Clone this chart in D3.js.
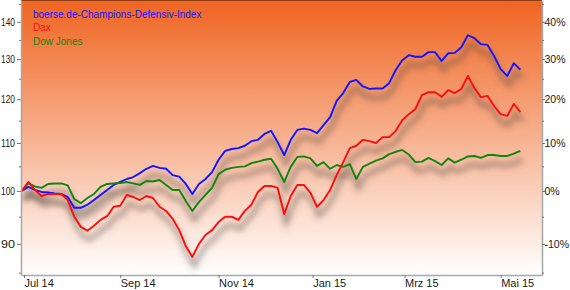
<!DOCTYPE html>
<html><head><meta charset="utf-8">
<script src="https://cdn.jsdelivr.net/npm/d3@7/dist/d3.min.js"></script>
<style>
body{margin:0;background:#fff}
svg{display:block}
text{font-family:"Liberation Sans",Arial,sans-serif}
</style>
</head><body>
<svg id="chart" width="570" height="290"></svg>
<script>
// ---------- data ----------
const seriesNames = ["boerse.de-Champions-Defensiv-Index", "Dax", "Dow Jones"];
const seriesColors = ["#1414ff", "#ff0d0d", "#118511"];
const dayStep = 3; // sample every 3 trading days, starting 30 Jun 2014
const champions = [100.0,100.8,100.2,99.8,99.7,99.5,99.4,98.8,96.7,96.7,
  97.3,98.2,99.2,100.2,101.2,101.8,102.4,102.8,103.6,104.5,
  105.1,104.7,104.5,103.2,102.9,101.4,99.4,101.4,102.4,103.8,
  106.4,108.3,108.7,108.9,109.4,110.4,110.7,112.0,112.7,110.2,
  107.4,110.7,112.9,113.2,112.9,112.2,114.0,115.8,119.6,121.5,
  124.2,124.7,123.1,122.5,122.6,122.6,123.9,127.2,129.7,131.0,
  130.6,130.6,131.8,131.8,129.5,131.5,131.6,133.1,136.3,135.5,
  133.9,133.7,130.8,127.4,125.7,128.9,127.3];
const dax = [100.0,101.8,100.2,99.0,99.4,99.4,99.4,98.2,95.0,93.1,
  92.4,93.3,94.4,95.1,96.9,97.1,99.2,98.8,98.2,99.0,
  98.6,96.9,96.1,94.6,92.5,89.6,87.7,90.0,91.6,92.5,
  94.0,95.0,95.0,94.4,96.1,97.3,99.8,101.0,101.0,100.6,
  95.5,99.0,101.2,101.2,99.6,96.9,98.2,100.2,103.2,105.9,
  108.9,109.4,110.7,110.4,110.0,111.3,111.3,112.7,115.1,116.5,
  117.7,121.0,121.7,121.7,120.6,122.2,121.5,122.5,125.7,122.7,
  120.5,120.8,118.4,116.5,116.1,118.9,117.0];
const dowJones = [100.0,101.5,100.9,100.6,101.4,101.5,101.5,101.1,98.4,97.6,
  98.6,99.4,100.8,101.4,101.5,101.6,101.8,101.5,101.2,102.0,
  101.9,102.2,101.2,100.2,100.2,98.0,96.1,97.8,99.2,100.6,
  103.4,104.3,104.7,104.9,105.0,105.7,106.0,106.4,106.6,104.5,
  101.8,104.9,107.0,107.1,106.7,105.1,105.9,104.5,105.3,104.9,
  105.5,102.4,104.9,105.6,106.2,106.7,107.6,108.1,108.5,107.5,
  105.9,106.0,106.8,106.1,105.3,106.7,105.8,106.4,107.1,107.2,
  106.8,107.4,107.4,107.2,107.2,107.7,108.3];
const monthTicks = [1, 45, 90, 133, 175, 219]; // trading-day index of month starts
const monthLabels = ["Jul 14", "Sep 14", "Nov 14", "Jan 15", "Mrz 15", "Mai 15"];
const leftTicks = [90, 100, 110, 120, 130, 140];
const rightTickLabels = ["-10%", "0%", "10%", "20%", "30%", "40%"];
const minorTicks = [85, 95, 105, 115, 125, 135, 145];

// ---------- layout ----------
const svg = d3.select("#chart");
const plot = {left: 21, right: 542, top: 0, bottom: 275};
const x = d3.scaleLinear().domain([-0.37, 237.9]).range([plot.left, plot.right]);
const y = d3.scaleLog().domain([84.6, 146.2]).range([plot.bottom, plot.top]);

const defs = svg.append("defs");
const grad = defs.append("linearGradient").attr("id", "bg").attr("x1", 0).attr("y1", 0).attr("x2", 0).attr("y2", 1);
grad.append("stop").attr("offset", "0%").attr("stop-color", "#ef6421");
grad.append("stop").attr("offset", "100%").attr("stop-color", "#ffffff");
const blur = defs.append("filter").attr("id", "shadow").attr("x", "-10%").attr("y", "-30%").attr("width", "120%").attr("height", "160%");
blur.append("feGaussianBlur").attr("stdDeviation", 3);
defs.append("clipPath").attr("id", "clip").append("rect")
  .attr("x", plot.left).attr("y", plot.top).attr("width", plot.right - plot.left).attr("height", plot.bottom - plot.top);

svg.append("rect").attr("x", plot.left).attr("y", plot.top)
  .attr("width", plot.right - plot.left).attr("height", plot.bottom - plot.top)
  .attr("fill", "url(#bg)");

const series = [champions, dax, dowJones];
const line = d3.line().x((d, i) => x(i * dayStep)).y(d => y(d));

const g = svg.append("g").attr("clip-path", "url(#clip)");
const sh = g.append("g").attr("filter", "url(#shadow)").attr("transform", "translate(2,9)");
series.forEach(s => {
  sh.append("path").datum(s).attr("d", line).attr("fill", "none")
    .attr("stroke", "#5a4a44").attr("stroke-opacity", 0.55).attr("stroke-width", 4);
});
[0, 2, 1].forEach(k => {
  g.append("path").datum(series[k]).attr("d", line).attr("fill", "none")
    .attr("stroke", seriesColors[k]).attr("stroke-width", 1.9).attr("stroke-linejoin", "round");
});

// top border
svg.append("line").attr("x1", plot.left).attr("x2", plot.right).attr("y1", 0.5).attr("y2", 0.5)
  .attr("stroke", "#8e3b10").attr("stroke-width", 1);

// axes
const axisColor = "#a8a8a8";
const left = svg.append("g").attr("transform", `translate(${plot.left},0)`)
  .call(d3.axisLeft(y).tickValues(leftTicks).tickFormat(d3.format("d")).tickSize(4).tickPadding(3).tickSizeOuter(0));
svg.append("g").attr("transform", `translate(${plot.left},0)`)
  .call(d3.axisLeft(y).tickValues(minorTicks).tickFormat("").tickSize(2).tickSizeOuter(0))
  .call(a => a.select(".domain").remove());
const right = svg.append("g").attr("transform", `translate(${plot.right},0)`)
  .call(d3.axisRight(y).tickValues(leftTicks).tickFormat((d, i) => rightTickLabels[i]).tickSize(3).tickPadding(1).tickSizeOuter(0));
svg.append("g").attr("transform", `translate(${plot.right},0)`)
  .call(d3.axisRight(y).tickValues(minorTicks).tickFormat("").tickSize(2).tickSizeOuter(0))
  .call(a => a.select(".domain").remove());
const bottom = svg.append("g").attr("transform", `translate(0,${plot.bottom})`)
  .call(d3.axisBottom(x).tickValues(monthTicks).tickFormat((d, i) => monthLabels[i]).tickSize(3).tickSizeOuter(0));
bottom.selectAll("text").attr("text-anchor", "start").attr("x", 0).attr("y", 4);

svg.selectAll(".domain").attr("stroke", axisColor).attr("stroke-width", 1.5);
svg.selectAll(".tick line").attr("stroke", "#777");
svg.selectAll(".tick text").attr("font-size", 11).attr("fill", "#1a1a1a")
  .style("font-family", '"Liberation Sans", Arial, sans-serif');
// left labels: narrow, fit between image edge and tick
left.selectAll(".tick text").attr("text-anchor", "start").attr("x", -20)
  .attr("textLength", 14).attr("lengthAdjust", "spacingAndGlyphs");
// right labels: keep inside the image
right.selectAll(".tick text").attr("x", 2.5).attr("font-size", 10.5);

// legend
seriesNames.forEach((n, i) => {
  svg.append("text").attr("x", 33).attr("y", 17.5 + i * 13.5)
    .attr("font-size", 10).attr("fill", seriesColors[i]).text(n);
});
</script>
</body></html>
